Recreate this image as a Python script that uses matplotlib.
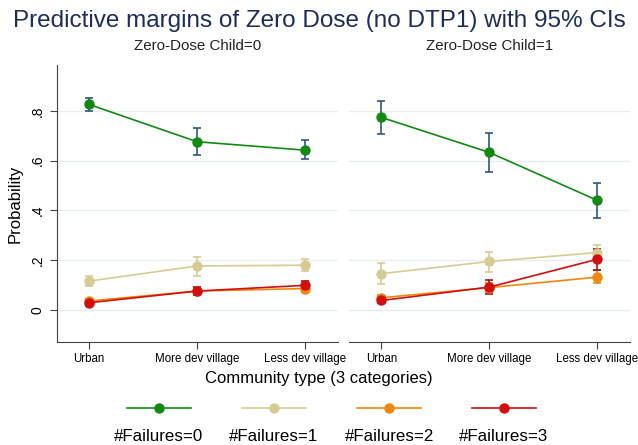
import matplotlib
import matplotlib.pyplot as plt
from matplotlib.lines import Line2D

matplotlib.use("Agg")

plt.rcParams["font.family"] = ["Liberation Sans", "DejaVu Sans"]

categories = ["Urban", "More dev village", "Less dev village"]
panels = ["Zero-Dose Child=0", "Zero-Dose Child=1"]
series = ["#Failures=0", "#Failures=1", "#Failures=2", "#Failures=3"]

# estimate / lower / upper per series (rows) and category (columns)
est_0 = [
    [0.826, 0.676, 0.642],
    [0.115, 0.176, 0.179],
    [0.035, 0.075, 0.085],
    [0.028, 0.075, 0.098],
]
lo_0 = [
    [0.800, 0.621, 0.605],
    [0.095, 0.137, 0.154],
    [0.025, 0.060, 0.072],
    [0.020, 0.058, 0.080],
]
hi_0 = [
    [0.853, 0.732, 0.683],
    [0.136, 0.212, 0.206],
    [0.045, 0.090, 0.098],
    [0.036, 0.092, 0.115],
]
est_1 = [
    [0.774, 0.633, 0.440],
    [0.145, 0.194, 0.230],
    [0.048, 0.089, 0.131],
    [0.037, 0.091, 0.203],
]
lo_1 = [
    [0.706, 0.555, 0.371],
    [0.102, 0.153, 0.199],
    [0.036, 0.071, 0.107],
    [0.025, 0.062, 0.161],
]
hi_1 = [
    [0.841, 0.710, 0.508],
    [0.188, 0.234, 0.262],
    [0.060, 0.107, 0.158],
    [0.050, 0.121, 0.246],
]

yticks = [0, 0.2, 0.4, 0.6, 0.8]
ytick_labels = ["0", ".2", ".4", ".6", ".8"]

line_colors = ["#128a12", "#d6cc93", "#f0860c", "#d40d0d"]
bar_colors = ["#2f5580", "#d6cc93", "#f0860c", "#a31010"]
navy = "#1e2d5a"

fig = plt.figure(figsize=(6.38, 4.45), dpi=100)
fig.patch.set_facecolor("white")

axes = [
    fig.add_axes([0.089, 0.2315, 0.440, 0.6225]),
    fig.add_axes([0.547, 0.2315, 0.440, 0.6225]),
]

x = [1, 2, 3]
data = [(est_0, lo_0, hi_0), (est_1, lo_1, hi_1)]

for k, ax in enumerate(axes):
    est, lo, hi = data[k]
    for i in range(len(series)):
        yerr = [[e - l for e, l in zip(est[i], lo[i])],
                [h - e for e, h in zip(est[i], hi[i])]]
        ax.errorbar(x, est[i], yerr=yerr, fmt="none", ecolor=bar_colors[i],
                    elinewidth=1.2, capsize=3, capthick=1.2, zorder=2)
        ax.plot(x, est[i], color=line_colors[i], lw=1.2, marker="o",
                markersize=6.5, zorder=3)
    ax.set_xlim(0.7, 3.3)
    ax.set_ylim(-0.13, 0.985)
    ax.set_yticks(yticks)
    ax.set_xticks(x)
    ax.set_xticklabels(categories, fontsize=8.3)
    ax.grid(axis="y", color="#e6eef2", lw=0.9)
    ax.set_axisbelow(True)
    for s in ["top", "right"]:
        ax.spines[s].set_visible(False)
    ax.spines["bottom"].set_color("#444444")
    ax.spines["left"].set_color("#444444")
    ax.tick_params(axis="x", length=5, color="#444444", pad=3)
    ax.set_title(panels[k], fontsize=10.9, color="#222222", pad=11)

axes[0].set_yticklabels(ytick_labels, fontsize=10, rotation=90, va="center")
axes[0].tick_params(axis="y", length=5, color="#444444")
axes[0].set_ylabel("Probability", fontsize=12, labelpad=6)
axes[1].spines["left"].set_visible(False)
axes[1].tick_params(axis="y", left=False, labelleft=False)

fig.suptitle("Predictive margins of Zero Dose (no DTP1) with 95% CIs",
             x=0.5, y=0.977, fontsize=17.5, color=navy)
fig.text(0.5, 0.15, "Community type (3 categories)", ha="center",
         va="center", fontsize=12)

# legend: key above label
key_centers = [0.249, 0.429, 0.610, 0.790]
for i, cx in enumerate(key_centers):
    fig.add_artist(Line2D([cx - 0.05, cx + 0.05], [0.083, 0.083],
                          color=line_colors[i], lw=1.2,
                          transform=fig.transFigure))
    fig.add_artist(Line2D([cx], [0.083], color=line_colors[i], marker="o",
                          markersize=6.5, transform=fig.transFigure))
    fig.text(cx, 0.018, series[i], ha="center", va="center", fontsize=12.2)

fig.savefig("out.png", dpi=100)
